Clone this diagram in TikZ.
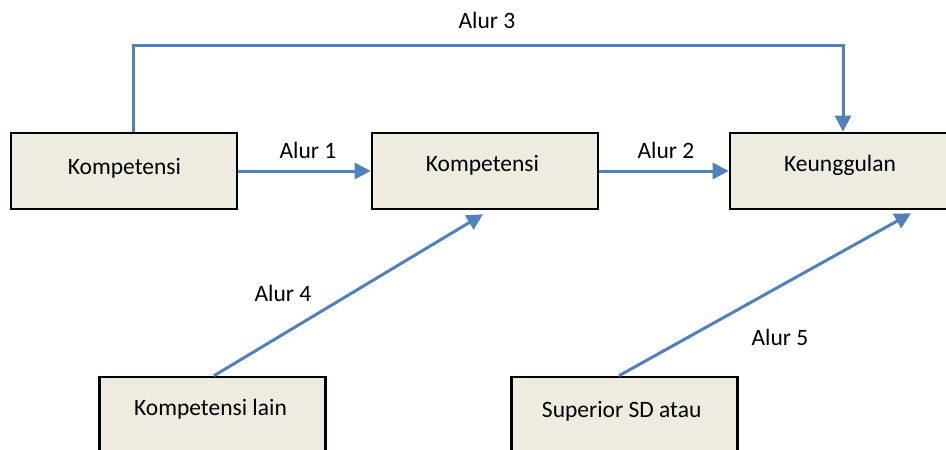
\documentclass[tikz,border=0pt]{standalone}
\usepackage{fontspec}
\setmainfont{Carlito}
\usetikzlibrary{arrows.meta}
\definecolor{boxfill}{HTML}{EEECE1}
\definecolor{flowblue}{HTML}{4F81BD}
\tikzset{
  box/.style={draw=black, line width=2.6pt, fill=boxfill, rectangle,
    minimum width=226pt, minimum height=76pt, inner sep=0pt},
  txt/.style={font=\fontsize{23.5}{28}\selectfont, anchor=base, inner sep=0pt},
  flow/.style={draw=flowblue, line width=3pt,
    -{Triangle[width=16pt,length=16pt]}}
}
\begin{document}
\begin{tikzpicture}[x=1pt, y=-1pt]
  \useasboundingbox (0,0) rectangle (946,450);
  \clip (0,0) rectangle (946,450);

  % boxes
  \node[box] (b1) at (124,171) {};
  \node[box] (b2) at (485,171) {};
  \node[box] (b3) at (843,171) {};
  \node[box] (b4) at (212.5,415) {};
  \node[box] (b5) at (624.5,415) {};

  % box texts
  \node[txt] (t1) at (124.5,174) {Kompetensi};
  \node[txt] (t2) at (482.5,171) {Kompetensi};
  \node[txt] (t3) at (840,171.5) {Keunggulan};
  \node[txt] (t4) at (210.5,415.5) {Kompetensi lain};
  \node[txt] (t5) at (621.7,417) {Superior SD atau};

  % connectors
  \draw[flow] (b1.east) -- (b2.west);
  \draw[flow] (b2.east) -- (b3.west);
  \draw[flow] ([xshift=9pt]b1.north) |- ([yshift=86pt]b3.north) -- (b3.north);
  \draw[flow] ([xshift=1.5pt]b4.north) -- ([xshift=-2pt,yshift=-4pt]b2.south);
  \draw[flow] ([xshift=-5.5pt]b5.north) -- ([xshift=68pt,yshift=-3pt]b3.south);

  % connector labels
  \node[txt] (l1) at (308,158) {Alur 1};
  \node[txt] (l2) at (666,158) {Alur 2};
  \node[txt] (l3) at (487,28) {Alur 3};
  \node[txt] (l4) at (283,301.7) {Alur 4};
  \node[txt] (l5) at (780,345) {Alur 5};
\end{tikzpicture}
\end{document}
